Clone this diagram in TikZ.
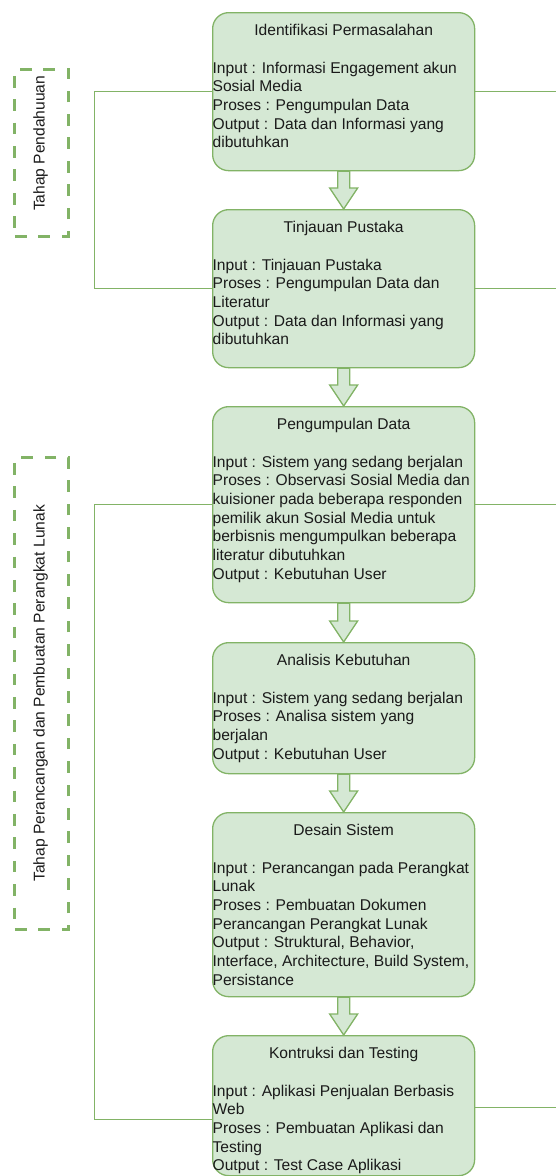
\documentclass[tikz,border=0pt]{standalone}
\usepackage{fontspec}
\setmainfont{Liberation Sans}
\usetikzlibrary{calc}
\definecolor{gfill}{HTML}{D5E8D4}
\definecolor{gline}{HTML}{82B366}
\definecolor{ink}{HTML}{1A1A1A}
\newcommand{\boxtext}[3]{\parbox[t][#1][t]{262pt}{\fontsize{15.6pt}{18.7pt}\selectfont\raggedright\makebox[262pt][c]{\rule{0pt}{23pt}#2}\\[18.7pt]#3}}
\newcommand{\fatarrow}[2]{\filldraw[fatarrowstyle] ($(#1.south)+(-6,0)$) -- ($(#2.north)+(-6,-21)$) -- ($(#2.north)+(-14,-21)$) -- (#2.north) -- ($(#2.north)+(14,-21)$) -- ($(#2.north)+(6,-21)$) -- ($(#1.south)+(6,0)$) -- cycle;}
\tikzset{
  stage/.style={draw=gline, fill=gfill, rounded corners=16pt, inner sep=0pt, line width=1.3pt, anchor=north west, text=ink},
  fatarrowstyle/.style={draw=gline, fill=gfill, line width=1.3pt, line join=miter},
  link/.style={draw=gline, line width=1.3pt},
  phase/.style={draw=gline, line width=3pt, dash pattern=on 11.7pt off 11.7pt, inner sep=0pt},
  phaselabel/.style={rotate=90, text=ink, inner sep=0pt, font=\fontsize{15.6pt}{18.7pt}\selectfont}
}
\begin{document}
\begin{tikzpicture}[x=1pt,y=-1pt]
\useasboundingbox (0,0) rectangle (555,1176);

\node[stage] (b1) at (212,12) {\boxtext{158pt}{Identifikasi Permasalahan}{Input : Informasi Engagement akun\\Sosial Media\\Proses : Pengumpulan Data\\Output : Data dan Informasi yang\\dibutuhkan}};
\node[stage] (b2) at (212,209) {\boxtext{158pt}{Tinjauan Pustaka}{Input : Tinjauan Pustaka\\Proses : Pengumpulan Data dan\\Literatur\\Output : Data dan Informasi yang\\dibutuhkan}};
\node[stage] (b3) at (212,406) {\boxtext{196pt}{Pengumpulan Data}{Input : Sistem yang sedang berjalan\\Proses : Observasi Sosial Media dan\\kuisioner pada beberapa responden\\pemilik akun Sosial Media untuk\\berbisnis mengumpulkan beberapa\\literatur dibutuhkan\\Output : Kebutuhan User}};
\node[stage] (b4) at (212,642) {\boxtext{131pt}{Analisis Kebutuhan}{Input : Sistem yang sedang berjalan\\Proses : Analisa sistem yang\\berjalan\\Output : Kebutuhan User}};
\node[stage] (b5) at (212,812) {\boxtext{184pt}{Desain Sistem}{Input : Perancangan pada Perangkat\\Lunak\\Proses : Pembuatan Dokumen\\Perancangan Perangkat Lunak\\Output : Struktural, Behavior,\\Interface, Architecture, Build System,\\Persistance}};
\node[stage] (b6) at (212,1035) {\boxtext{140pt}{Kontruksi dan Testing}{Input : Aplikasi Penjualan Berbasis\\Web\\Proses : Pembuatan Aplikasi dan\\Testing\\Output : Test Case Aplikasi}};

\fatarrow{b1}{b2}
\fatarrow{b2}{b3}
\fatarrow{b3}{b4}
\fatarrow{b4}{b5}
\fatarrow{b5}{b6}

\path (b1.east) ++(81,0) coordinate (e1);
\path (b2.east) ++(81,0) coordinate (e2);
\path (b3.east) ++(81,0) coordinate (e3);
\path (b6.east) ++(81,2) coordinate (e6);
\path (b6.west) ++(0,14) coordinate (w6);

\draw[link] (b1.west) -- ++(-117.5,0) |- (b2.west);
\draw[link] (b3.west) -- ++(-117.5,0) |- (w6);
\draw[link] (b1.east) -- (e1);
\draw[link] (b2.east) -- (e2);
\draw[link] (b3.east) -- (e3);
\draw[link] ($(b6.east)+(0,2)$) -- (e6);

\node[phase, minimum width=53.5pt, minimum height=167pt] (p1) at (41.7,152.5) {};
\node[phaselabel] (l1) at (40.7,143.3) {Tahap Pendahuuan};
\node[phase, minimum width=53.5pt, minimum height=472.5pt] (p2) at (41.7,693.7) {};
\node[phaselabel] (l2) at (40.7,693.3) {Tahap Perancangan dan Pembuatan Perangkat Lunak};
\end{tikzpicture}
\end{document}
